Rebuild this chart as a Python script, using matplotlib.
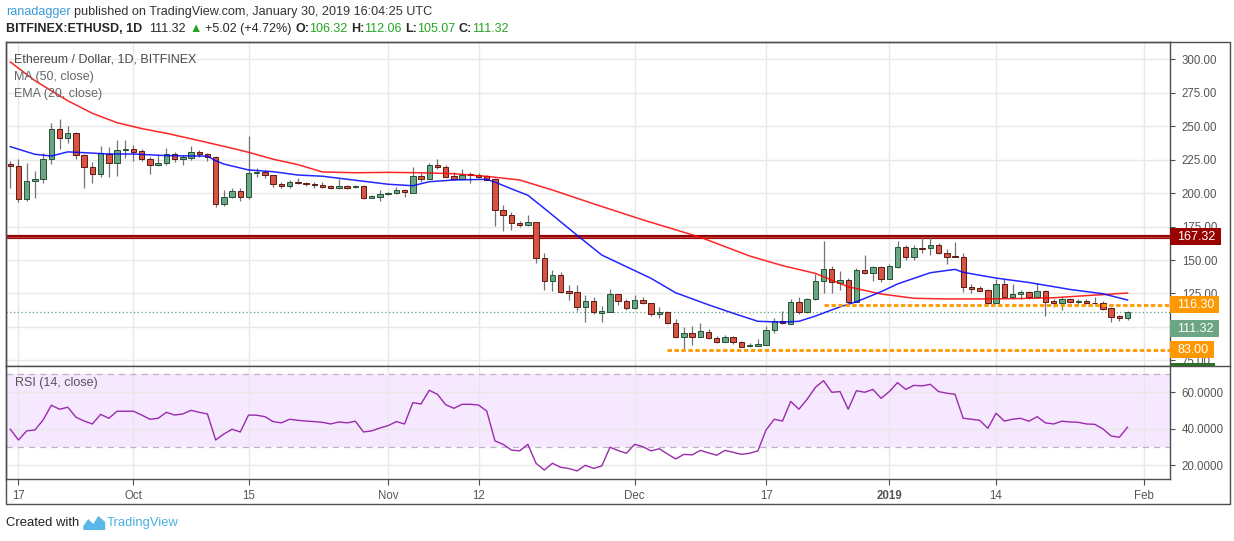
import numpy as np
import pandas as pd
import matplotlib
matplotlib.use("Agg")
import matplotlib.pyplot as plt
import matplotlib.dates as mdates
from matplotlib.patches import Rectangle, Polygon
from matplotlib.lines import Line2D
from matplotlib import font_manager

# ---- data (ETH/USD daily, Bitfinex) ----
dates = pd.date_range("2018-09-16", "2019-01-30", freq="D")

opens = [221.6, 220.1, 195.8, 209.0, 210.5, 225.3, 247.7, 241.0, 244.7, 228.2,
         219.3, 214.0, 229.2, 222.3, 232.0, 232.7, 231.2, 225.7, 220.8, 222.3,
         229.2, 225.3, 226.2, 230.7, 229.0, 226.8, 191.6, 196.9, 201.3, 196.9,
         214.8, 216.0, 213.3, 206.6, 205.0, 208.3, 207.5, 207.0, 206.0, 205.3,
         203.6, 205.3, 204.3, 205.3, 196.6, 197.3, 199.1, 199.8, 202.3, 200.3,
         212.6, 210.8, 220.8, 219.3, 212.6, 210.8, 214.0, 213.5, 212.8, 210.5,
         187.0, 184.0, 177.4, 175.9, 178.6, 151.3, 134.1, 138.5, 126.8, 125.9,
         115.1, 119.4, 110.6, 111.4, 124.4, 119.1, 113.9, 119.9, 117.6, 109.4,
         110.9, 102.6, 92.2, 95.2, 92.7, 96.0, 92.0, 89.0, 92.2, 88.5,
         85.5, 86.0, 86.7, 97.5, 104.4, 102.5, 118.4, 111.4, 120.6, 134.1,
         143.0, 133.0, 134.8, 118.9, 142.2, 140.5, 144.7, 136.0, 145.0, 159.7,
         152.5, 158.7, 158.7, 161.2, 155.0, 153.0, 152.5, 129.6, 128.9, 127.6,
         118.1, 132.1, 122.6, 124.4, 126.1, 122.1, 126.8, 119.4, 117.6, 120.9,
         118.9, 119.6, 118.1, 117.6, 113.9, 108.1, 106.32]
highs = [224.0, 225.5, 222.7, 216.5, 229.7, 252.2, 255.4, 250.0, 245.9, 229.0,
         223.5, 235.2, 234.7, 239.7, 239.7, 236.0, 233.0, 227.0, 228.6, 233.5,
         231.0, 228.5, 235.2, 232.0, 230.0, 227.5, 202.3, 203.6, 203.6, 242.9,
         219.0, 217.5, 213.5, 208.5, 209.7, 211.5, 208.5, 208.5, 208.0, 206.0,
         210.3, 206.0, 205.8, 206.0, 198.8, 202.3, 201.0, 204.8, 202.8, 219.7,
         214.8, 222.3, 225.3, 221.3, 215.5, 218.0, 215.5, 215.3, 213.5, 211.5,
         191.0, 185.6, 178.8, 183.6, 178.6, 155.0, 142.5, 141.0, 131.3, 131.3,
         123.6, 122.0, 115.6, 128.3, 124.8, 121.0, 123.6, 122.7, 118.1, 115.1,
         111.9, 105.7, 100.1, 100.6, 102.7, 98.5, 93.5, 94.2, 93.5, 89.8,
         87.8, 91.0, 100.6, 106.4, 112.0, 120.9, 122.6, 121.8, 139.3, 164.2,
         145.5, 141.8, 136.3, 144.0, 153.7, 145.5, 145.5, 147.0, 164.2, 161.2,
         161.2, 167.4, 167.4, 162.5, 158.2, 163.2, 155.0, 132.2, 130.6, 128.6,
         135.6, 135.6, 132.1, 127.6, 126.6, 132.6, 127.6, 120.6, 122.6, 121.6,
         121.0, 120.6, 122.6, 119.4, 115.1, 109.0, 112.06]
lows = [204.0, 193.4, 194.3, 196.6, 207.8, 222.0, 233.2, 237.7, 225.7, 203.6,
        207.8, 212.3, 212.3, 213.0, 226.5, 224.2, 224.0, 214.3, 220.3, 220.8,
        223.0, 221.0, 224.7, 227.0, 224.0, 189.4, 190.4, 196.5, 194.3, 195.6,
        212.3, 211.6, 204.3, 203.6, 204.0, 206.8, 205.0, 203.5, 204.0, 203.0,
        203.0, 203.0, 204.0, 195.8, 196.6, 194.0, 198.8, 199.3, 197.3, 199.8,
        208.5, 210.3, 217.8, 211.8, 209.8, 210.3, 207.3, 211.5, 209.8, 175.5,
        172.0, 172.4, 174.8, 175.4, 148.0, 127.6, 127.1, 125.5, 120.0, 112.1,
        103.9, 110.0, 103.4, 111.4, 116.5, 113.0, 113.5, 117.0, 108.1, 106.7,
        101.9, 92.0, 83.5, 86.5, 92.2, 91.0, 88.3, 89.0, 87.3, 84.8,
        85.2, 85.8, 86.5, 95.2, 102.4, 102.4, 109.4, 110.5, 120.2, 125.6,
        125.6, 127.6, 117.6, 118.4, 139.8, 134.5, 133.8, 135.6, 144.3, 150.0,
        150.0, 155.5, 153.7, 154.5, 146.8, 152.3, 126.3, 125.2, 126.8, 117.1,
        117.6, 121.3, 121.3, 121.1, 120.5, 121.3, 108.1, 115.1, 112.6, 118.1,
        116.8, 117.1, 117.1, 112.6, 103.9, 104.6, 105.07]
closes = [220.1, 195.8, 209.0, 210.5, 225.3, 247.7, 241.0, 244.7, 228.2, 219.3,
          214.0, 229.7, 222.3, 232.2, 232.7, 231.0, 225.7, 220.8, 222.5, 229.0,
          225.3, 227.0, 230.5, 229.0, 226.8, 191.6, 196.9, 201.3, 196.9, 214.8,
          215.8, 213.3, 206.6, 205.0, 208.0, 207.3, 206.6, 205.8, 204.8, 203.6,
          205.3, 204.0, 205.3, 196.6, 197.8, 199.5, 200.3, 202.3, 200.6, 212.6,
          210.8, 220.8, 219.3, 212.3, 210.8, 213.5, 213.3, 212.3, 210.0, 187.0,
          184.0, 177.4, 175.9, 178.6, 151.3, 134.1, 138.5, 126.3, 125.6, 115.1,
          119.4, 110.9, 111.7, 124.4, 119.1, 113.9, 120.1, 117.6, 109.4, 110.9,
          102.6, 92.2, 95.2, 92.7, 96.7, 92.0, 89.0, 92.2, 88.5, 85.2,
          86.5, 87.2, 97.7, 104.4, 102.6, 118.4, 111.4, 120.6, 134.1, 143.0,
          133.3, 134.8, 118.9, 142.2, 140.5, 144.7, 136.0, 145.5, 159.7, 152.5,
          158.7, 158.0, 161.2, 155.0, 152.5, 152.5, 129.6, 128.5, 127.1, 118.1,
          132.1, 122.6, 124.6, 126.1, 122.1, 126.8, 118.9, 117.6, 120.9, 118.9,
          119.2, 117.6, 117.6, 113.6, 107.6, 106.3, 111.32]

ma50_dates = ["2018-09-16", "2018-09-19", "2018-09-23", "2018-09-26", "2018-09-29",
              "2018-10-02", "2018-10-05", "2018-10-09", "2018-10-13", "2018-10-15",
              "2018-10-18", "2018-10-21", "2018-10-24", "2018-10-28", "2018-11-01",
              "2018-11-05", "2018-11-09", "2018-11-13", "2018-11-17", "2018-11-21",
              "2018-11-26", "2018-12-02", "2018-12-09", "2018-12-15", "2018-12-19",
              "2018-12-23", "2018-12-27", "2018-12-31", "2019-01-04", "2019-01-08",
              "2019-01-12", "2019-01-16", "2019-01-21", "2019-01-25", "2019-01-30"]
ma50_values = [298.0, 284.0, 269.0, 259.6, 252.6, 248.2, 244.7, 239.2, 233.5, 230.5,
               225.3, 221.3, 215.8, 215.2, 215.5, 215.2, 214.5, 212.5, 209.8, 202.3,
               192.0, 180.0, 167.0, 153.0, 145.8, 140.0, 130.0, 124.6, 121.4, 120.9,
               120.9, 121.1, 121.8, 123.4, 125.3]

ema20_dates = ["2018-09-16", "2018-09-19", "2018-09-21", "2018-09-23", "2018-09-25",
               "2018-09-28", "2018-10-01", "2018-10-05", "2018-10-10", "2018-10-11",
               "2018-10-12", "2018-10-15", "2018-10-18", "2018-10-21", "2018-10-24",
               "2018-10-28", "2018-11-01", "2018-11-04", "2018-11-06", "2018-11-09",
               "2018-11-13", "2018-11-14", "2018-11-16", "2018-11-18", "2018-11-20",
               "2018-11-24", "2018-11-27", "2018-11-30", "2018-12-03", "2018-12-06",
               "2018-12-10", "2018-12-13", "2018-12-16", "2018-12-19", "2018-12-21",
               "2018-12-23", "2018-12-26", "2018-12-28", "2018-12-31", "2019-01-02",
               "2019-01-06", "2019-01-09", "2019-01-10", "2019-01-14", "2019-01-18",
               "2019-01-23", "2019-01-27", "2019-01-30"]
ema20_values = [234.7, 229.0, 227.7, 230.8, 230.2, 229.2, 229.2, 228.0, 227.6, 224.2,
                221.7, 217.3, 216.0, 213.5, 212.6, 209.6, 206.6, 205.5, 208.5, 209.8,
                210.3, 208.2, 203.2, 198.4, 188.6, 168.5, 153.7, 145.0, 136.3, 125.5,
                116.5, 110.2, 104.2, 103.6, 104.2, 108.1, 115.0, 118.8, 126.3, 132.1,
                140.5, 143.0, 140.8, 136.5, 133.2, 128.0, 124.8, 120.1]

rsi14 = [39.7, 33.8, 38.8, 39.3, 44.8, 52.9, 50.7, 51.8, 46.3, 44.2,
         42.6, 47.9, 45.7, 49.6, 49.6, 49.6, 47.5, 45.2, 45.7, 49.0,
         47.5, 48.1, 50.1, 49.0, 48.1, 33.8, 37.1, 39.7, 38.2, 47.5,
         47.4, 46.6, 43.9, 43.2, 45.2, 44.6, 44.2, 43.9, 43.5, 42.6,
         43.7, 43.2, 44.1, 38.2, 38.8, 40.4, 41.7, 43.9, 42.6, 54.3,
         53.6, 61.1, 58.9, 53.2, 51.2, 53.4, 53.4, 53.0, 49.7, 33.3,
         31.4, 28.3, 27.8, 31.4, 21.0, 17.3, 21.0, 18.8, 18.1, 16.8,
         19.9, 18.2, 19.5, 29.8, 28.0, 26.5, 31.4, 30.1, 27.8, 29.0,
         26.1, 23.4, 25.9, 25.6, 28.1, 26.7, 25.4, 28.1, 27.0, 25.9,
         26.5, 27.8, 39.3, 45.2, 44.2, 55.0, 50.7, 56.2, 62.7, 66.4,
         60.0, 60.4, 50.7, 60.9, 60.0, 61.6, 56.7, 60.4, 65.3, 61.6,
         63.8, 63.5, 64.4, 60.4, 59.5, 58.9, 45.7, 45.2, 44.6, 40.2,
         48.5, 44.2, 45.2, 45.7, 44.1, 46.6, 43.2, 42.6, 44.1, 43.7,
         43.5, 42.6, 42.4, 39.9, 36.0, 35.3, 40.8]

resistance = 167.32
level_mid = 116.30
level_low = 83.00
last_price = 111.32
mid_start = "2018-12-24"
low_start = "2018-12-05"

tick_dates = ["2018-09-17", "2018-10-01", "2018-10-15", "2018-11-01", "2018-11-12",
              "2018-12-01", "2018-12-17", "2019-01-01", "2019-01-14", "2019-02-01"]
tick_labels = ["17", "Oct", "15", "Nov", "12", "Dec", "17", "2019", "14", "Feb"]
price_ticks = [75, 100, 125, 150, 175, 200, 225, 250, 275, 300]
rsi_ticks = [20, 40, 60]

# ---- styling ----
W, H = 1234, 541
names = {f.name for f in font_manager.fontManager.ttflist}
NARROW = "Liberation Sans Narrow" if "Liberation Sans Narrow" in names else "Liberation Sans"
FONT = ["Liberation Sans", "DejaVu Sans"]
UP, DOWN = "#6ba583", "#d75442"
UP_EDGE, DOWN_EDGE = "#225437", "#5b1a13"
WICK = "#737375"
FRAME = "#4d4d4d"
TXT = "#555555"
GRID = "#e8e8e8"

plt.rcParams["font.family"] = FONT


def fx(x):
    return x / W


def fy(y):
    return 1 - y / H


fig = plt.figure(figsize=(W / 100, H / 100), dpi=100)
fig.patch.set_facecolor("white")
ax = fig.add_axes([fx(6), fy(366), fx(1170) - fx(6), fy(42) - fy(366)])
axr = fig.add_axes([fx(6), fy(479), fx(1170) - fx(6), fy(366) - fy(479)], sharex=ax)

x = mdates.date2num(dates.to_pydatetime())
x0 = x[0]

# candles
for xi, o, h, l, c in zip(x, opens, highs, lows, closes):
    up = c >= o
    ax.vlines(xi, l, h, color=WICK, lw=0.9, zorder=3)
    body = max(abs(c - o), 0.5)
    ax.bar(xi, body, bottom=min(o, c), width=0.66,
           color=UP if up else DOWN, edgecolor=UP_EDGE if up else DOWN_EDGE,
           linewidth=0.7, zorder=4)

ma_x = mdates.date2num(pd.to_datetime(ma50_dates).to_pydatetime())
ema_x = mdates.date2num(pd.to_datetime(ema20_dates).to_pydatetime())
ax.plot(ma_x, ma50_values, color="#ff0000", lw=1.1, alpha=0.85, zorder=5)
ax.plot(ema_x, ema20_values, color="#0000ff", lw=1.1, alpha=0.85, zorder=5)

xmin, xmax = x0 - 0.52, x0 + 141.17
ax.axhline(resistance, color="#8b0000", lw=3.0, zorder=2)
ax.axhline(resistance, color="#c83a3a", lw=1.0, zorder=2)
ax.axhline(last_price, color="#5e9e7c", lw=0.9, ls=(0, (1, 2)), zorder=2)
ms = mdates.date2num(pd.Timestamp(mid_start).to_pydatetime())
ls_ = mdates.date2num(pd.Timestamp(low_start).to_pydatetime())
ax.plot([ms, xmax], [level_mid, level_mid], color="#ff9800", lw=2.0,
        dashes=(1.6, 0.9), zorder=6)
ax.plot([ls_, xmax], [level_low, level_low], color="#ff9800", lw=2.0,
        dashes=(1.6, 0.9), zorder=6)

ax.set_xlim(xmin, xmax)
ax.set_ylim(70.8, 312.9)

tx = mdates.date2num(pd.to_datetime(tick_dates).to_pydatetime())
for a in (ax, axr):
    a.set_xticks(tx)
    a.grid(True, color=GRID, lw=1.0)
    a.set_axisbelow(True)
    for s in a.spines.values():
        s.set_color(FRAME)
        s.set_linewidth(1.0)
    a.yaxis.tick_right()
    a.tick_params(axis="y", direction="out", length=3.5, width=0.8, color=FRAME,
                  labelcolor=TXT, labelsize=8.3, pad=5)
ax.tick_params(axis="x", length=0, labelbottom=False)
ax.set_yticks(price_ticks)
ax.set_yticklabels(["%.2f" % v for v in price_ticks])

axr.set_xticklabels(tick_labels)
axr.tick_params(axis="x", direction="out", length=4, width=0.8, color=FRAME,
                labelcolor=TXT, labelsize=8.3, pad=4)
for lbl in axr.get_xticklabels():
    if lbl.get_text() == "2019":
        lbl.set_fontweight("bold")

# RSI panel
axr.axhspan(30, 70, color="#f5e8ff", zorder=0.1, lw=0)
axr.axhline(70, color="#bcb2c4", lw=0.9, ls=(0, (5, 4)), zorder=1)
axr.axhline(30, color="#bcb2c4", lw=0.9, ls=(0, (5, 4)), zorder=1)
axr.plot(x, rsi14, color="#9b2aad", lw=1.0, zorder=3)
axr.set_ylim(12.36, 74.45)
axr.set_yticks(rsi_ticks)
axr.set_yticklabels(["%.4f" % v for v in rsi_ticks])

# price labels on the right scale (TradingView stacks touching labels)
lab = ax.get_yaxis_transform()
px_per_unit = 1.338
half = 8.4 / px_per_unit
label_boxes = [(resistance, 0.0, "#990000", 51), (level_mid, -0.6, "#ff9800", 49),
               (last_price, 16.8, "#6ba583", 49), (level_low, 0.0, "#ff9800", 44)]
for val, shift_px, col, wpx in label_boxes:
    yc = val - shift_px / px_per_unit
    ax.add_patch(Rectangle((1.0, yc - half), wpx / 1164, 2 * half, transform=lab,
                           facecolor=col, edgecolor="none", clip_on=False, zorder=10))
    ax.text(1.0 + 7 / 1164, yc, "%.2f" % val, transform=lab, color="white",
            fontsize=9, va="center", ha="left", clip_on=False, zorder=11)
fig.add_artist(Rectangle((fx(1170), fy(366)), fx(1215) - fx(1170), 3.5 / H,
                         transform=fig.transFigure, facecolor="#2f6f2a", edgecolor="none",
                         zorder=12))

# legends inside panels
ax.text(8 / 1164, 1 - 18 / 324, "Ethereum / Dollar, 1D, BITFINEX", transform=ax.transAxes,
        color="#4a4a4a", fontsize=9, va="center", ha="left", family=NARROW, zorder=12)
ax.text(8 / 1164, 1 - 35 / 324, "MA (50, close)", transform=ax.transAxes,
        color="#666666", fontsize=9, va="center", ha="left", family=NARROW, zorder=12)
ax.text(8 / 1164, 1 - 52 / 324, "EMA (20, close)", transform=ax.transAxes,
        color="#666666", fontsize=9, va="center", ha="left", family=NARROW, zorder=12)
axr.text(9 / 1164, 1 - 17 / 113, "RSI (14, close)", transform=axr.transAxes,
         color="#555555", fontsize=9, va="center", ha="left", family=NARROW, zorder=12)

# outer frame
fig.add_artist(Rectangle((fx(6), fy(504)), fx(1230) - fx(6), (504 - 42) / H,
                         transform=fig.transFigure, fill=False, edgecolor=FRAME, lw=1.0))
fig.add_artist(Line2D([fx(1170), fx(1230)], [fy(366), fy(366)],
                      transform=fig.transFigure, color=FRAME, lw=1.0))

# header and footer text runs
renderer = fig.canvas.get_renderer()


def text_width(s, size, weight, family):
    a = fig.text(0, 0, "|" + s + "|", fontsize=size, fontweight=weight, family=family)
    b = fig.text(0, 0, "||", fontsize=size, fontweight=weight, family=family)
    w = a.get_window_extent(renderer).width - b.get_window_extent(renderer).width
    a.remove()
    b.remove()
    return w


def text_run(x_px, y_px, parts, size, family):
    for s, color, weight in parts:
        core = s.strip()
        lead = len(s) - len(s.lstrip())
        trail = len(s) - len(s.rstrip())
        sp = text_width(" ", size, weight, family)
        x_px += lead * sp
        if core:
            fig.text(fx(x_px), fy(y_px), core, color=color, fontsize=size,
                     fontweight=weight, family=family, ha="left", va="center")
            x_px += text_width(core, size, weight, family)
        x_px += trail * sp
    return x_px


GREEN = "#24a424"
DARK = "#262626"
text_run(6, 12, [("ranadagger", "#3a9ad9", "normal"),
                 (" published on TradingView.com, January 30, 2019 16:04:25 UTC", "#333333", "normal")],
         9.1, [NARROW, "DejaVu Sans"])
text_run(6, 29, [("BITFINEX:ETHUSD, 1D", DARK, "bold"),
                 ("  111.32 ", DARK, "normal"),
                 ("▲", GREEN, "normal"),
                 (" +5.02 (+4.72%) ", DARK, "normal"),
                 ("O:", DARK, "bold"), ("106.32 ", GREEN, "normal"),
                 ("H:", DARK, "bold"), ("112.06 ", GREEN, "normal"),
                 ("L:", DARK, "bold"), ("105.07 ", GREEN, "normal"),
                 ("C:", DARK, "bold"), ("111.32", GREEN, "normal")],
         9.0, [NARROW, "DejaVu Sans"])

end = text_run(6, 523, [("Created with", "#222222", "normal")], 9.4, [NARROW, "DejaVu Sans"])
lx = end + 4
logo = [(lx, 530), (lx, 526), (lx + 5, 519), (lx + 10, 524), (lx + 15, 516),
        (lx + 22, 522), (lx + 22, 530)]
fig.add_artist(Polygon([(fx(a), fy(b)) for a, b in logo], closed=True,
                       transform=fig.transFigure, facecolor="#5ab8e8", edgecolor="none"))
text_run(lx + 23, 523, [("TradingView", "#49b0e3", "normal")], 9.4, [NARROW, "DejaVu Sans"])

fig.savefig("out.png", dpi=100, facecolor="white")
